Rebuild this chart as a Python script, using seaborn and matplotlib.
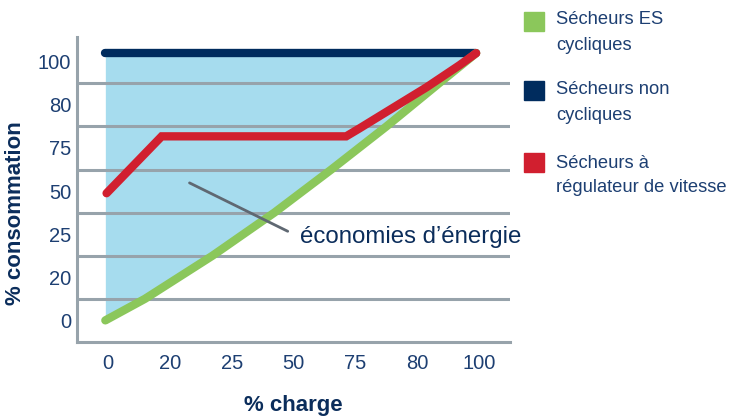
import matplotlib
matplotlib.use("Agg")
import matplotlib.pyplot as plt
import seaborn as sns
import pandas as pd
from matplotlib.patches import Rectangle

# catégories des axes (positions régulières, étiquettes irrégulières)
charge_labels = ["0", "20", "25", "50", "75", "80", "100"]
conso_labels = ["0", "20", "25", "50", "75", "80", "100"]

# courbes (x et y en position de catégorie)
es_x = [-0.04, 0.60, 1.69, 2.69, 3.61, 4.50, 5.35, 5.95]
es_y = [0.0, 0.50, 1.50, 2.50, 3.50, 4.50, 5.50, 6.20]

non_cyc_x = [-0.04, 5.95]
non_cyc_y = [6.20, 6.20]

vsd_x = [-0.02, 0.87, 3.85, 4.06, 5.15, 5.68, 5.95]
vsd_y = [2.95, 4.27, 4.27, 4.45, 5.41, 5.92, 6.20]

series_names = ["Sécheurs ES\ncycliques", "Sécheurs non\ncycliques",
                "Sécheurs à\nrégulateur de vitesse"]
series_colors = ["#8bc75b", "#002c5e", "#d11f2f"]

grid_col = "#97a3ab"
txt_col = "#1d3f72"
lab_col = "#0b2d5b"

sns.set_style("white")
plt.rcParams["font.family"] = ["Liberation Sans", "DejaVu Sans"]

fig = plt.figure(figsize=(7.32, 4.18), dpi=100)
ax = fig.add_axes([0.105, 0.182, 0.592, 0.730])

# zone d'économies d'énergie
ax.fill_between(es_x, es_y, non_cyc_y[0], color="#a6dcee", lw=0, zorder=1)

df_es = pd.DataFrame({"charge": es_x, "conso": es_y})
df_nc = pd.DataFrame({"charge": non_cyc_x, "conso": non_cyc_y})
df_vsd = pd.DataFrame({"charge": vsd_x, "conso": vsd_y})

sns.lineplot(data=df_nc, x="charge", y="conso", ax=ax, color=series_colors[1],
             lw=6, solid_capstyle="round", zorder=3)
sns.lineplot(data=df_es, x="charge", y="conso", ax=ax, color=series_colors[0],
             lw=6, solid_capstyle="round", zorder=3)
sns.lineplot(data=df_vsd, x="charge", y="conso", ax=ax, color=series_colors[2],
             lw=6, solid_capstyle="round", solid_joinstyle="miter", zorder=4)

ax.set_xlim(-0.5, 6.5)
ax.set_ylim(-0.5, 6.58)

ax.set_xticks(range(len(charge_labels)))
ax.set_xticklabels(charge_labels)
ax.set_xticks([i - 0.5 for i in range(len(charge_labels))], minor=True)
ax.set_yticks(range(len(conso_labels)))
ax.set_yticklabels(conso_labels)
ax.set_yticks([i + 0.5 for i in range(len(conso_labels) - 1)], minor=True)

ax.tick_params(axis="x", which="major", length=0, pad=9, labelsize=14.5, labelcolor=txt_col)
ax.tick_params(axis="x", which="minor", length=5, width=2.2, color=grid_col, direction="out")
ax.tick_params(axis="y", which="major", length=0, pad=4, labelsize=14.5, labelcolor=txt_col)
ax.tick_params(axis="y", which="minor", length=0)
ax.yaxis.grid(True, which="minor", color=grid_col, lw=2.2, zorder=2)
ax.set_axisbelow(False)
for gl in ax.get_ygridlines():
    gl.set_zorder(2)

for s in ["top", "right"]:
    ax.spines[s].set_visible(False)
for s in ["left", "bottom"]:
    ax.spines[s].set_color(grid_col)
    ax.spines[s].set_linewidth(2.2)

ax.set_xlabel("% charge", fontsize=16, fontweight="bold", color=lab_col)
ax.set_ylabel("% consommation", fontsize=16, fontweight="bold", color=lab_col)
ax.xaxis.set_label_coords(0.5, -0.175)
ax.yaxis.set_label_coords(-0.118, 0.423)

ax.annotate("économies d’énergie", xy=(1.32, 3.19), xytext=(3.1, 1.93),
            fontsize=17.3, color=lab_col, ha="left", va="center",
            arrowprops=dict(arrowstyle="-", color="#5f6872", lw=2,
                            shrinkA=7, shrinkB=0, relpos=(0, 0.5)),
            zorder=5)

# légende à droite
sw_tops = [12, 81, 153]
line1_y = [20, 90, 163]
for name, col, top, ly in zip(series_names, series_colors, sw_tops, line1_y):
    fig.patches.append(Rectangle((524 / 732, 1 - (top + 19) / 418), 20 / 732, 19 / 418,
                                 transform=fig.transFigure, color=col))
    for i, part in enumerate(name.split("\n")):
        fig.text(556 / 732, 1 - (ly + 25 * i) / 418, part, fontsize=13.2,
                 color=txt_col, va="center", ha="left")

fig.savefig("out.png", dpi=100)
